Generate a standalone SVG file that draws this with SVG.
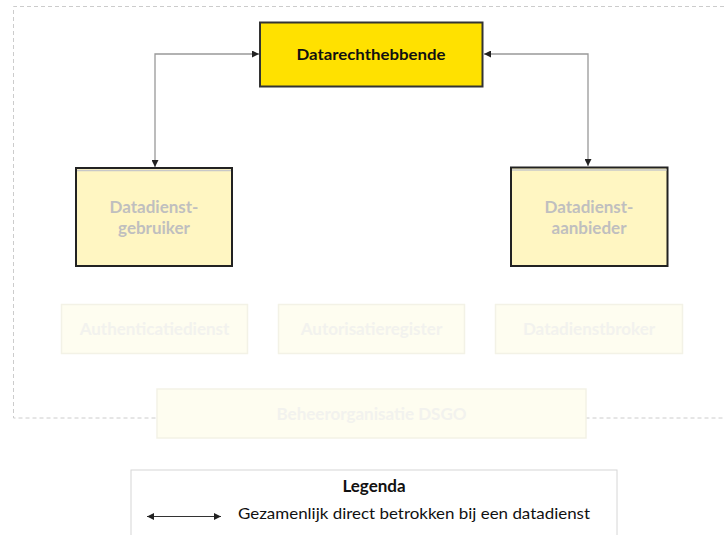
<svg xmlns="http://www.w3.org/2000/svg" width="724" height="535" viewBox="0 0 724 535">
<defs>
<style>
.t{font-family:Lato,"Liberation Sans",sans-serif;font-weight:bold;text-anchor:middle}
.main{fill:#FFE100;stroke:#333;stroke-width:2}
.pale{fill:#FFF6C2;stroke:#222;stroke-width:2}
.faint{fill:#FEFDF0;stroke:#F3F2E6;stroke-width:1.5}
.ft{fill:#F2F2EE;font-size:17px}
.gt{fill:#BFBFBF;font-size:17px}
.conn{fill:none;stroke:#999;stroke-width:1.3}
</style>
<marker id="ah" viewBox="0 0 10 10" refX="10" refY="5" markerWidth="7" markerHeight="7" markerUnits="userSpaceOnUse" orient="auto-start-reverse">
<path d="M0,0 L10,5 L0,10 z" fill="#222"/>
</marker>
</defs>
<rect width="724" height="535" fill="#fff"/>
<path d="M724,6.5 H13.5 V418 H724" fill="none" stroke="#CCCCCC" stroke-width="1" stroke-dasharray="4,3"/>

<g id="connectors">
<path class="conn" d="M259,54 H155 V167" marker-start="url(#ah)" marker-end="url(#ah)"/>
<path class="conn" d="M484,54 H588 V166" marker-start="url(#ah)" marker-end="url(#ah)"/>
</g>

<g id="datarechthebbende">
<rect class="main" x="260" y="22.5" width="222.5" height="64"/>
<text class="t" x="371" y="59.5" font-size="15" fill="#111" textLength="149" lengthAdjust="spacingAndGlyphs">Datarechthebbende</text>
</g>

<g id="gebruiker">
<rect class="pale" x="76" y="168" width="156" height="98"/>
<line x1="77" y1="170.5" x2="231" y2="170.5" stroke="#C8C8C8" stroke-width="1.5"/>
<text class="t gt" x="154" y="212.5">Datadienst-</text>
<text class="t gt" x="154" y="234">gebruiker</text>
</g>

<g id="aanbieder">
<rect class="pale" x="511" y="167.5" width="156.5" height="98.5"/>
<line x1="512" y1="170" x2="666.5" y2="170" stroke="#C8C8C8" stroke-width="1.5"/>
<text class="t gt" x="589" y="212.5">Datadienst-</text>
<text class="t gt" x="589" y="234">aanbieder</text>
</g>

<g id="authenticatiedienst">
<rect class="faint" x="61.5" y="304.5" width="186" height="49"/>
<text class="t ft" x="154.5" y="335">Authenticatiedienst</text>
</g>
<g id="autorisatieregister">
<rect class="faint" x="278.5" y="304.5" width="186" height="49"/>
<text class="t ft" x="371.5" y="335">Autorisatieregister</text>
</g>
<g id="datadienstbroker">
<rect class="faint" x="495.5" y="304.5" width="187" height="49"/>
<text class="t ft" x="589" y="335">Datadienstbroker</text>
</g>
<g id="beheerorganisatie">
<rect class="faint" x="157" y="389" width="429" height="49"/>
<text class="t ft" x="371.5" y="419.5">Beheerorganisatie DSGO</text>
</g>

<g id="legenda">
<rect x="131" y="470" width="486" height="70" fill="#fff" stroke="#D6D6D6" stroke-width="1"/>
<text class="t" x="374" y="492" font-size="17" fill="#111">Legenda</text>
<line x1="147" y1="516.5" x2="221" y2="516.5" stroke="#333" stroke-width="1.2" marker-start="url(#ah)" marker-end="url(#ah)"/>
<text x="238" y="519" font-family="Lato,'Liberation Sans',sans-serif" font-size="16" fill="#111" textLength="352" lengthAdjust="spacingAndGlyphs">Gezamenlijk direct betrokken bij een datadienst</text>
</g>
</svg>
